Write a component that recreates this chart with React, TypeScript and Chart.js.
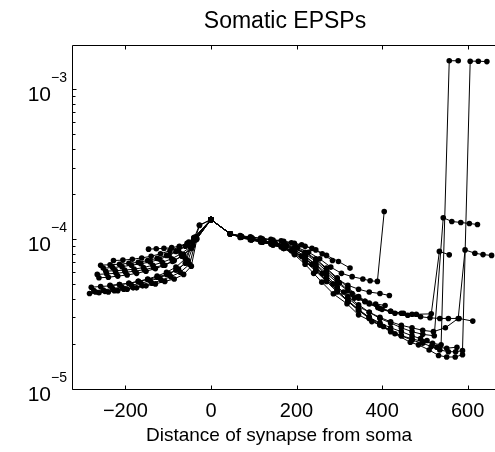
import React, { useEffect, useRef } from "react";
import { Chart, registerables } from "chart.js";

Chart.register(...registerables);

// ---- text ----
const titleText = "Somatic EPSPs";
const xAxisLabel = "Distance of synapse from soma";

// ---- axis ticks ----
const xTickValues = [-200, 0, 200, 400, 600];
const xTickLabels = ["\u2212200", "0", "200", "400", "600"];
const yMajorTickValues = [1e-5, 1e-4, 1e-3];
const yMajorTickBase = ["10", "10", "10"];
const yMajorTickExponent = ["\u22125", "\u22124", "\u22123"];
const yMinorTickValues = [
  2e-5, 3e-5, 4e-5, 5e-5, 6e-5, 7e-5, 8e-5, 9e-5,
  2e-4, 3e-4, 4e-4, 5e-4, 6e-4, 7e-4, 8e-4, 9e-4,
];
const xMin = -325;
const xMax = 664;
const yMin = 1e-5;
const yMax = 2e-3;

// ---- basal paths (negative distance) ----
const basal1X = [-284, -262, -240, -218, -196, -174, -152, -130, -108, -86, -64, -46, -33, 0];
const basal1Y = [4.4e-5, 4.45e-5, 4.5e-5, 4.6e-5, 4.7e-5, 4.8e-5, 4.95e-5, 5.1e-5, 5.3e-5, 5.5e-5, 5.9e-5, 6.7e-5, 10.2e-5, 13.7e-5];
const basal2X = [-280, -258, -236, -214, -192, -170, -148, -126, -104, -82, -60, -40, 0];
const basal2Y = [4.85e-5, 4.9e-5, 4.95e-5, 5.05e-5, 5.15e-5, 5.3e-5, 5.45e-5, 5.65e-5, 5.9e-5, 6.3e-5, 7.0e-5, 10.3e-5, 13.7e-5];
const basal3X = [-274, -252, -230, -208, -186, -164, -142, -120, -98, -76, -54, -37, 0];
const basal3Y = [4.6e-5, 4.65e-5, 4.75e-5, 4.85e-5, 5.0e-5, 5.15e-5, 5.35e-5, 5.6e-5, 5.95e-5, 6.4e-5, 7.3e-5, 10.0e-5, 13.7e-5];
const basal4X = [-266, -244, -222, -200, -178, -156, -134, -112, -90, -68, -46, -36, 0];
const basal4Y = [5.9e-5, 5.95e-5, 6.0e-5, 6.1e-5, 6.2e-5, 6.35e-5, 6.55e-5, 6.8e-5, 7.2e-5, 7.8e-5, 8.8e-5, 10.4e-5, 13.7e-5];
const basal5X = [-262, -240, -218, -196, -174, -152, -130, -108, -86, -64, -42, -27, 0];
const basal5Y = [5.6e-5, 5.65e-5, 5.75e-5, 5.85e-5, 6.0e-5, 6.2e-5, 6.45e-5, 6.8e-5, 7.3e-5, 8.0e-5, 9.2e-5, 12.5e-5, 13.7e-5];
const basal6X = [-252, -230, -208, -186, -164, -142, -120, -98, -76, -54, -38, 0];
const basal6Y = [6.5e-5, 6.55e-5, 6.65e-5, 6.8e-5, 6.95e-5, 7.15e-5, 7.45e-5, 7.9e-5, 8.5e-5, 9.3e-5, 10.3e-5, 13.7e-5];
const basal7X = [-246, -224, -202, -180, -158, -136, -114, -92, -70, -48, -34, 0];
const basal7Y = [6.2e-5, 6.25e-5, 6.3e-5, 6.4e-5, 6.55e-5, 6.8e-5, 7.1e-5, 7.5e-5, 8.1e-5, 9.0e-5, 10.1e-5, 13.7e-5];
const basal8X = [-228, -206, -184, -162, -140, -118, -96, -74, -52, -36, 0];
const basal8Y = [7.3e-5, 7.35e-5, 7.45e-5, 7.6e-5, 7.8e-5, 8.1e-5, 8.5e-5, 9.0e-5, 9.7e-5, 10.5e-5, 13.7e-5];
const basal9X = [-146, -128, -110, -92, -74, -56, -40, -27, 0];
const basal9Y = [8.7e-5, 8.75e-5, 8.8e-5, 8.9e-5, 9.1e-5, 9.5e-5, 10.2e-5, 12.6e-5, 13.7e-5];
const basal10X = [-236, -214, -192, -170, -148, -126, -104, -82, -60, -42, 0];
const basal10Y = [5.0e-5, 5.05e-5, 5.15e-5, 5.3e-5, 5.5e-5, 5.75e-5, 6.1e-5, 6.6e-5, 7.5e-5, 9.8e-5, 13.7e-5];
const basal11X = [-258, -236, -214, -192, -170, -148, -126, -104, -82, -60, -40, 0];
const basal11Y = [6.8e-5, 6.85e-5, 6.9e-5, 7.0e-5, 7.1e-5, 7.3e-5, 7.55e-5, 7.9e-5, 8.4e-5, 9.1e-5, 10.4e-5, 13.7e-5];
const basal12X = [-270, -248, -226, -204, -182, -160, -138, -116, -94, -72, -50, -35, 0];
const basal12Y = [4.5e-5, 4.55e-5, 4.6e-5, 4.7e-5, 4.8e-5, 4.95e-5, 5.15e-5, 5.4e-5, 5.7e-5, 6.1e-5, 6.9e-5, 10.1e-5, 13.7e-5];

// ---- apical paths (positive distance) ----
const apical1X = [0, 45, 70, 95, 120, 145, 170, 195, 220, 245, 270, 298, 325];
const apical1Y = [13.7e-5, 11.0e-5, 10.6e-5, 10.4e-5, 10.2e-5, 10.0e-5, 9.8e-5, 9.5e-5, 9.1e-5, 8.6e-5, 7.9e-5, 7.2e-5, 6.5e-5];
const apical2X = [0, 45, 68, 92, 116, 140, 164, 188, 212, 236, 260, 284];
const apical2Y = [13.7e-5, 11.0e-5, 10.7e-5, 10.5e-5, 10.3e-5, 10.1e-5, 9.9e-5, 9.6e-5, 9.3e-5, 8.8e-5, 8.1e-5, 7.3e-5];
const apical3X = [0, 45, 72, 98, 124, 150, 176, 202, 228, 254, 280, 305, 330, 355, 372, 389, 405];
const apical3Y = [13.7e-5, 11.0e-5, 10.5e-5, 10.2e-5, 9.9e-5, 9.6e-5, 9.3e-5, 8.9e-5, 8.3e-5, 7.5e-5, 6.6e-5, 6.0e-5, 5.7e-5, 5.5e-5, 5.35e-5, 5.3e-5, 15.5e-5];
const apical4X = [0, 45, 70, 95, 120, 145, 170, 195, 220, 245, 270, 295, 320, 345, 370, 395, 417];
const apical4Y = [13.7e-5, 11.0e-5, 10.5e-5, 10.1e-5, 9.8e-5, 9.5e-5, 9.2e-5, 8.8e-5, 8.2e-5, 7.4e-5, 6.4e-5, 5.5e-5, 5.0e-5, 4.7e-5, 4.5e-5, 4.4e-5, 4.27e-5];
const apical5X = [0, 45, 68, 92, 116, 140, 164, 188, 212, 236, 260, 285, 310, 335, 360, 385, 407];
const apical5Y = [13.7e-5, 11.0e-5, 10.4e-5, 10.0e-5, 9.7e-5, 9.4e-5, 9.0e-5, 8.5e-5, 7.8e-5, 6.9e-5, 6.0e-5, 5.1e-5, 4.5e-5, 4.1e-5, 3.9e-5, 3.75e-5, 3.66e-5];
const apical6X = [0, 45, 70, 95, 120, 145, 170, 195, 220, 245, 270, 300, 330, 360, 390, 420, 450, 480, 515, 534, 557];
const apical6Y = [13.7e-5, 11.0e-5, 10.6e-5, 10.2e-5, 9.9e-5, 9.6e-5, 9.2e-5, 8.8e-5, 8.1e-5, 7.2e-5, 6.2e-5, 5.2e-5, 4.4e-5, 3.9e-5, 3.55e-5, 3.35e-5, 3.25e-5, 3.2e-5, 3.22e-5, 8.4e-5, 7.97e-5];
const apical7X = [0, 45, 70, 95, 120, 145, 170, 195, 220, 245, 270, 295, 320, 345, 370, 395, 420, 445, 470, 495, 522, 543, 563, 584, 604, 623];
const apical7Y = [13.7e-5, 11.0e-5, 10.5e-5, 10.1e-5, 9.8e-5, 9.5e-5, 9.1e-5, 8.6e-5, 7.8e-5, 6.8e-5, 5.8e-5, 4.9e-5, 4.2e-5, 3.7e-5, 3.3e-5, 3.0e-5, 2.8e-5, 2.6e-5, 2.45e-5, 2.35e-5, 2.3e-5, 14.1e-5, 13.3e-5, 13.1e-5, 12.9e-5, 12.7e-5];
const apical8X = [0, 45, 70, 95, 120, 145, 170, 195, 220, 245, 270, 295, 320, 345, 370, 400, 430, 460, 490, 512, 535, 555, 580, 612];
const apical8Y = [13.7e-5, 11.0e-5, 10.6e-5, 10.2e-5, 9.9e-5, 9.6e-5, 9.3e-5, 8.9e-5, 8.3e-5, 7.5e-5, 6.5e-5, 5.6e-5, 4.8e-5, 4.2e-5, 3.8e-5, 3.45e-5, 3.25e-5, 3.15e-5, 3.08e-5, 3.03e-5, 3.0e-5, 3.0e-5, 3.0e-5, 2.88e-5];
const apical9X = [0, 45, 70, 95, 120, 145, 170, 195, 220, 245, 270, 295, 320, 345, 370, 395, 420, 445, 470, 495, 520, 548, 578, 594, 617, 636, 656];
const apical9Y = [13.7e-5, 11.0e-5, 10.5e-5, 10.1e-5, 9.7e-5, 9.4e-5, 9.0e-5, 8.4e-5, 7.6e-5, 6.6e-5, 5.6e-5, 4.8e-5, 4.1e-5, 3.6e-5, 3.3e-5, 3.05e-5, 2.85e-5, 2.7e-5, 2.6e-5, 2.5e-5, 2.45e-5, 2.6e-5, 3.0e-5, 8.6e-5, 8.17e-5, 8.0e-5, 7.9e-5];
const apical10X = [0, 45, 70, 95, 120, 145, 170, 195, 220, 245, 270, 295, 320, 345, 370, 395, 420, 445, 470, 495, 518, 538, 557, 578];
const apical10Y = [13.7e-5, 11.0e-5, 10.5e-5, 10.1e-5, 9.7e-5, 9.3e-5, 8.9e-5, 8.3e-5, 7.5e-5, 6.5e-5, 5.5e-5, 4.6e-5, 3.9e-5, 3.4e-5, 3.0e-5, 2.7e-5, 2.45e-5, 2.3e-5, 2.2e-5, 2.1e-5, 2.05e-5, 2.0e-5, 157e-5, 157e-5];
const apical11X = [0, 45, 70, 95, 120, 145, 170, 195, 220, 245, 270, 295, 320, 345, 370, 395, 420, 445, 470, 495, 515, 535, 555, 572, 588, 606, 625, 645];
const apical11Y = [13.7e-5, 11.0e-5, 10.5e-5, 10.1e-5, 9.7e-5, 9.3e-5, 8.8e-5, 8.2e-5, 7.3e-5, 6.3e-5, 5.4e-5, 4.6e-5, 3.95e-5, 3.45e-5, 3.05e-5, 2.75e-5, 2.5e-5, 2.3e-5, 2.15e-5, 2.05e-5, 1.95e-5, 1.85e-5, 1.8e-5, 1.8e-5, 1.83e-5, 156e-5, 156e-5, 155e-5];
const apical12X = [0, 45, 70, 95, 120, 145, 170, 195, 220, 245, 270, 295, 320, 345, 370, 395, 420, 445, 470, 490, 505, 528, 551, 575];
const apical12Y = [13.7e-5, 11.0e-5, 10.5e-5, 10.1e-5, 9.7e-5, 9.3e-5, 8.8e-5, 8.1e-5, 7.2e-5, 6.2e-5, 5.3e-5, 4.5e-5, 3.9e-5, 3.4e-5, 3.05e-5, 2.8e-5, 2.6e-5, 2.45e-5, 2.3e-5, 2.2e-5, 2.14e-5, 1.93e-5, 1.9e-5, 1.93e-5];
const apical13X = [0, 45, 70, 95, 120, 145, 170, 195, 220, 240, 259, 286, 318, 345, 376, 403, 430, 466, 485, 510, 532, 551, 571, 588];
const apical13Y = [13.7e-5, 11.0e-5, 10.5e-5, 10.1e-5, 9.7e-5, 9.3e-5, 8.8e-5, 8.0e-5, 6.9e-5, 6.0e-5, 5.24e-5, 4.38e-5, 3.76e-5, 3.17e-5, 2.86e-5, 2.65e-5, 2.37e-5, 2.08e-5, 2.0e-5, 1.85e-5, 1.7e-5, 1.66e-5, 1.66e-5, 1.72e-5];
const apical14X = [0, 45, 70, 95, 120, 145, 170, 195, 220, 245, 270, 295, 320, 345, 370, 395, 420, 445, 470];
const apical14Y = [13.7e-5, 11.0e-5, 10.6e-5, 10.2e-5, 9.9e-5, 9.6e-5, 9.2e-5, 8.6e-5, 7.8e-5, 6.9e-5, 6.0e-5, 5.2e-5, 4.6e-5, 4.1e-5, 3.75e-5, 3.5e-5, 3.35e-5, 3.25e-5, 3.2e-5];

const seriesList: [number[], number[]][] = [
  [basal1X, basal1Y], [basal2X, basal2Y], [basal3X, basal3Y], [basal4X, basal4Y],
  [basal5X, basal5Y], [basal6X, basal6Y], [basal7X, basal7Y], [basal8X, basal8Y],
  [basal9X, basal9Y], [basal10X, basal10Y], [basal11X, basal11Y], [basal12X, basal12Y],
  [apical1X, apical1Y], [apical2X, apical2Y], [apical3X, apical3Y], [apical4X, apical4Y],
  [apical5X, apical5Y], [apical6X, apical6Y], [apical7X, apical7Y], [apical8X, apical8Y],
  [apical9X, apical9Y], [apical10X, apical10Y], [apical11X, apical11Y], [apical12X, apical12Y],
  [apical13X, apical13Y], [apical14X, apical14Y],
];

const FONT = "'Liberation Sans', Arial, Helvetica, sans-serif";

const axesPlugin = {
  id: "matlabAxes",
  afterDraw(chart: any) {
    const ctx = chart.ctx as CanvasRenderingContext2D;
    const xs = chart.scales.x;
    const ys = chart.scales.y;
    const { left, right, top, bottom } = chart.chartArea;
    const L = Math.round(left) + 0.5;
    const T = Math.round(top) + 0.5;
    const B = Math.round(bottom) - 0.5;
    const R = Math.round(right) + 2.5;
    ctx.save();
    ctx.strokeStyle = "#000";
    ctx.fillStyle = "#000";
    ctx.lineWidth = 1;
    // box (right side lies beyond the visible canvas)
    ctx.beginPath();
    ctx.moveTo(R, T);
    ctx.lineTo(L, T);
    ctx.lineTo(L, B);
    ctx.lineTo(R, B);
    ctx.stroke();
    // x ticks (inward, bottom and top)
    ctx.beginPath();
    xTickValues.forEach((v) => {
      const px = Math.round(xs.getPixelForValue(v)) + 0.5;
      ctx.moveTo(px, B);
      ctx.lineTo(px, B - 4);
      ctx.moveTo(px, T);
      ctx.lineTo(px, T + 4);
    });
    // y ticks
    yMajorTickValues.forEach((v) => {
      const py = Math.round(ys.getPixelForValue(v)) - 0.5;
      ctx.moveTo(L, py);
      ctx.lineTo(L + 4, py);
    });
    yMinorTickValues.forEach((v) => {
      const py = Math.round(ys.getPixelForValue(v)) - 0.5;
      ctx.moveTo(L, py);
      ctx.lineTo(L + 3, py);
    });
    ctx.stroke();

    // x tick labels
    ctx.font = `20px ${FONT}`;
    ctx.textAlign = "center";
    ctx.textBaseline = "alphabetic";
    xTickValues.forEach((v, i) => {
      const px = xs.getPixelForValue(v);
      ctx.fillText(xTickLabels[i], px, 417);
    });

    // y tick labels: 10 with superscript exponent
    yMajorTickValues.forEach((v, i) => {
      const py = ys.getPixelForValue(v);
      ctx.font = `14px ${FONT}`;
      ctx.textAlign = "right";
      const expW = ctx.measureText(yMajorTickExponent[i]).width;
      ctx.fillText(yMajorTickExponent[i], 67, py - 8);
      ctx.font = `21px ${FONT}`;
      ctx.fillText(yMajorTickBase[i], 67 - expW, py + 10.5);
    });

    // x axis label
    ctx.font = `19px ${FONT}`;
    ctx.textAlign = "center";
    ctx.fillText(xAxisLabel, 279, 441);

    // title
    ctx.font = `23px ${FONT}`;
    ctx.fillText(titleText, 285, 28);
    ctx.restore();
  },
};

export default function App() {
  const canvasRef = useRef<HTMLCanvasElement | null>(null);

  useEffect(() => {
    const canvas = canvasRef.current;
    if (!canvas) return;
    const datasets = seriesList.map(([xs, ys], k) => ({
      label: `path ${k + 1}`,
      data: xs.map((x, i) => ({ x, y: ys[i] })),
      showLine: true,
      borderColor: "#000",
      backgroundColor: "#000",
      borderWidth: 1,
      pointRadius: 2.8,
      pointBorderWidth: 0,
      pointBackgroundColor: "#000",
      tension: 0,
    }));
    const chart = new Chart(canvas, {
      type: "scatter",
      data: { datasets },
      options: {
        animation: false,
        responsive: false,
        devicePixelRatio: 1,
        layout: { autoPadding: false, padding: { left: 72, top: 45, right: 0, bottom: 62 } },
        plugins: {
          legend: { display: false },
          tooltip: { enabled: false },
          title: { display: false },
        },
        scales: {
          x: { type: "linear", display: false, min: xMin, max: xMax },
          y: { type: "logarithmic", display: false, min: yMin, max: yMax },
        },
      },
      plugins: [axesPlugin],
    } as any);
    return () => chart.destroy();
  }, []);

  return (
    <div style={{ position: "absolute", left: 0, top: 0, width: 495, height: 452, background: "#fff" }}>
      <canvas ref={canvasRef} width={495} height={452} style={{ width: 495, height: 452, display: "block" }} />
    </div>
  );
}
